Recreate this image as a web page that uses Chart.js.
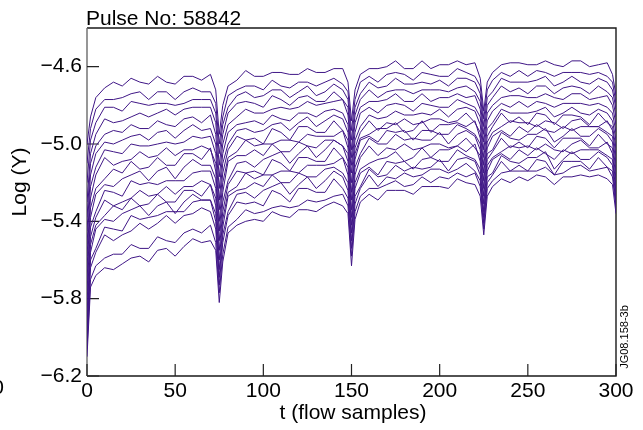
<!DOCTYPE html>
<html>
<head>
<meta charset="utf-8">
<script src="https://cdn.jsdelivr.net/npm/chart.js@4.4.0/dist/chart.umd.min.js"></script>
<style>
  html, body { margin: 0; padding: 0; background: #fff; }
</style>
</head>
<body>
<canvas id="pulseChart" width="643" height="430"></canvas>
<script>
// flow samples (denser around the dips at 75/150/225)
var tSamples = [0,2,5,10,15,20,25,30,35,40,45,50,55,60,65,70,73,75,77,
  80,85,90,95,100,105,110,115,120,125,130,135,140,145,148,150,152,
  155,160,165,170,175,180,185,190,195,200,205,210,215,220,223,225,227,
  230,235,240,245,250,255,260,265,270,275,280,285,290,295,298,300];

var xTicks = [0, 50, 100, 150, 200, 250, 300];
var yTicks = [-6.2, -5.8, -5.4, -5.0, -4.6];

// Log(Y) per channel, top trace first
var pulse01 = [-5.00,-4.86, -4.76,-4.71,-4.68,-4.70,-4.66,-4.68,-4.69,-4.65,-4.68,-4.69,-4.65,-4.65,-4.67,-4.64, -4.72,-4.95,-4.80,
  -4.70,-4.67,-4.62,-4.65,-4.65,-4.63,-4.63,-4.64,-4.64,-4.61,-4.63,-4.63,-4.61,-4.61, -4.68,-4.88,-4.72,
  -4.64,-4.61,-4.61,-4.60,-4.57,-4.61,-4.61,-4.57,-4.61,-4.59,-4.59,-4.57,-4.59,-4.58, -4.66,-4.83,-4.68,
  -4.63,-4.59,-4.58,-4.58,-4.59,-4.59,-4.57,-4.59,-4.60,-4.57,-4.57,-4.60,-4.59,-4.58, -4.64,-4.75];
var pulse02 = [-5.10,-4.92, -4.82,-4.77,-4.77,-4.76,-4.74,-4.73,-4.77,-4.73,-4.73,-4.77,-4.73,-4.71,-4.73,-4.73, -4.79,-5.00,-4.86,
  -4.75,-4.72,-4.70,-4.70,-4.72,-4.67,-4.70,-4.71,-4.68,-4.68,-4.70,-4.68,-4.66,-4.69, -4.73,-4.93,-4.77,
  -4.68,-4.65,-4.68,-4.64,-4.63,-4.64,-4.67,-4.63,-4.64,-4.65,-4.65,-4.61,-4.63,-4.65, -4.70,-4.87,-4.72,
  -4.67,-4.63,-4.65,-4.62,-4.65,-4.62,-4.63,-4.65,-4.63,-4.63,-4.63,-4.64,-4.63,-4.65, -4.68,-4.79];
var pulse03 = [-5.20,-4.98, -4.89,-4.81,-4.81,-4.83,-4.78,-4.79,-4.80,-4.79,-4.79,-4.80,-4.79,-4.77,-4.77,-4.77, -4.84,-5.05,-4.90,
  -4.81,-4.75,-4.73,-4.76,-4.75,-4.72,-4.72,-4.76,-4.73,-4.70,-4.75,-4.73,-4.69,-4.72, -4.77,-4.98,-4.81,
  -4.74,-4.68,-4.71,-4.70,-4.66,-4.69,-4.69,-4.68,-4.69,-4.67,-4.70,-4.66,-4.66,-4.68, -4.74,-4.91,-4.76,
  -4.73,-4.66,-4.68,-4.68,-4.68,-4.67,-4.65,-4.70,-4.68,-4.65,-4.68,-4.69,-4.66,-4.68, -4.72,-4.82];
var pulse04 = [-5.30,-5.05, -4.95,-4.87,-4.89,-4.88,-4.86,-4.84,-4.86,-4.84,-4.82,-4.85,-4.82,-4.81,-4.81,-4.81, -4.89,-5.11,-4.95,
  -4.84,-4.79,-4.78,-4.79,-4.81,-4.75,-4.77,-4.80,-4.76,-4.75,-4.78,-4.78,-4.73,-4.77, -4.81,-5.03,-4.85,
  -4.77,-4.72,-4.76,-4.73,-4.72,-4.72,-4.74,-4.72,-4.72,-4.72,-4.73,-4.71,-4.70,-4.73, -4.78,-4.95,-4.80,
  -4.76,-4.70,-4.73,-4.71,-4.74,-4.70,-4.70,-4.74,-4.71,-4.70,-4.71,-4.74,-4.70,-4.73, -4.76,-4.86];
var pulse05 = [-5.38,-5.10, -5.01,-4.95,-4.93,-4.94,-4.90,-4.92,-4.92,-4.88,-4.90,-4.91,-4.87,-4.86,-4.89,-4.85, -4.95,-5.17,-5.00,
  -4.90,-4.86,-4.82,-4.84,-4.84,-4.82,-4.81,-4.82,-4.81,-4.78,-4.80,-4.79,-4.78,-4.77, -4.85,-5.07,-4.89,
  -4.81,-4.78,-4.78,-4.77,-4.74,-4.78,-4.78,-4.74,-4.78,-4.76,-4.76,-4.74,-4.76,-4.75, -4.82,-4.99,-4.84,
  -4.80,-4.76,-4.75,-4.75,-4.76,-4.76,-4.74,-4.76,-4.77,-4.74,-4.74,-4.77,-4.76,-4.75, -4.80,-4.90];
var pulse06 = [-5.45,-5.16, -5.05,-4.99,-5.00,-4.98,-4.96,-4.95,-4.98,-4.94,-4.93,-4.97,-4.93,-4.90,-4.93,-4.92, -5.00,-5.23,-5.05,
  -4.94,-4.90,-4.89,-4.88,-4.90,-4.85,-4.87,-4.88,-4.84,-4.84,-4.86,-4.83,-4.82,-4.84, -4.90,-5.11,-4.94,
  -4.84,-4.81,-4.84,-4.80,-4.79,-4.80,-4.83,-4.79,-4.80,-4.81,-4.81,-4.77,-4.79,-4.81, -4.86,-5.03,-4.88,
  -4.83,-4.79,-4.81,-4.78,-4.81,-4.78,-4.79,-4.81,-4.79,-4.79,-4.79,-4.80,-4.79,-4.81, -4.84,-4.94];
var pulse07 = [-5.52,-5.22, -5.12,-5.03,-5.04,-5.05,-5.00,-5.01,-5.01,-5.00,-4.99,-5.00,-4.99,-4.96,-4.97,-4.96, -5.05,-5.29,-5.10,
  -5.00,-4.93,-4.92,-4.94,-4.93,-4.90,-4.89,-4.93,-4.89,-4.86,-4.91,-4.88,-4.85,-4.87, -4.94,-5.15,-4.98,
  -4.91,-4.85,-4.87,-4.86,-4.83,-4.85,-4.85,-4.84,-4.85,-4.82,-4.86,-4.82,-4.81,-4.83, -4.90,-5.07,-4.92,
  -4.89,-4.82,-4.84,-4.84,-4.84,-4.83,-4.81,-4.86,-4.84,-4.81,-4.84,-4.85,-4.82,-4.84, -4.88,-4.98];
var pulse08 = [-5.58,-5.28, -5.16,-5.07,-5.11,-5.09,-5.08,-5.04,-5.07,-5.06,-5.02,-5.06,-5.03,-5.03,-5.01,-5.03, -5.10,-5.34,-5.15,
  -5.03,-4.96,-4.98,-4.97,-5.00,-4.92,-4.94,-4.98,-4.91,-4.91,-4.94,-4.94,-4.88,-4.93, -4.98,-5.20,-5.02,
  -4.94,-4.88,-4.93,-4.89,-4.90,-4.87,-4.90,-4.89,-4.87,-4.87,-4.89,-4.88,-4.84,-4.89, -4.94,-5.11,-4.96,
  -4.91,-4.84,-4.89,-4.86,-4.90,-4.84,-4.85,-4.90,-4.85,-4.85,-4.86,-4.90,-4.84,-4.89, -4.91,-5.02];
var pulse09 = [-5.64,-5.33, -5.23,-5.18,-5.13,-5.15,-5.09,-5.13,-5.12,-5.07,-5.11,-5.11,-5.05,-5.05,-5.08,-5.02, -5.14,-5.40,-5.20,
  -5.07,-5.04,-4.98,-5.01,-5.00,-5.00,-4.98,-4.98,-4.99,-4.95,-4.96,-4.96,-4.96,-4.93, -5.02,-5.25,-5.05,
  -4.97,-4.95,-4.92,-4.92,-4.89,-4.94,-4.93,-4.88,-4.94,-4.90,-4.90,-4.89,-4.91,-4.88, -4.97,-5.15,-4.99,
  -4.94,-4.91,-4.88,-4.89,-4.89,-4.91,-4.88,-4.89,-4.92,-4.88,-4.87,-4.91,-4.91,-4.88, -4.93,-5.06];
var pulse10 = [-5.70,-5.38, -5.26,-5.21,-5.22,-5.18,-5.16,-5.14,-5.19,-5.14,-5.12,-5.18,-5.12,-5.08,-5.11,-5.11, -5.18,-5.45,-5.25,
  -5.09,-5.06,-5.06,-5.03,-5.06,-5.00,-5.04,-5.04,-4.99,-5.01,-5.02,-4.98,-4.98,-5.01, -5.05,-5.29,-5.08,
  -4.98,-4.96,-4.99,-4.93,-4.94,-4.93,-4.98,-4.93,-4.93,-4.95,-4.95,-4.90,-4.92,-4.95, -5.00,-5.19,-5.02,
  -4.96,-4.93,-4.96,-4.91,-4.94,-4.90,-4.93,-4.94,-4.91,-4.93,-4.91,-4.91,-4.91,-4.94, -4.96,-5.10];
var pulse11 = [-5.76,-5.43, -5.35,-5.24,-5.25,-5.27,-5.19,-5.21,-5.20,-5.21,-5.19,-5.19,-5.19,-5.15,-5.14,-5.14, -5.23,-5.50,-5.30,
  -5.19,-5.10,-5.09,-5.12,-5.08,-5.06,-5.04,-5.10,-5.05,-5.01,-5.07,-5.03,-4.98,-5.01, -5.09,-5.34,-5.12,
  -5.05,-4.97,-5.00,-5.00,-4.95,-4.98,-4.97,-4.98,-4.98,-4.94,-5.00,-4.95,-4.93,-4.96, -5.03,-5.23,-5.05,
  -5.03,-4.94,-4.97,-4.98,-4.95,-4.95,-4.92,-4.99,-4.96,-4.92,-4.96,-4.96,-4.92,-4.95, -4.99,-5.14];
var pulse12 = [-5.82,-5.48, -5.38,-5.29,-5.32,-5.30,-5.28,-5.24,-5.27,-5.26,-5.22,-5.26,-5.22,-5.22,-5.19,-5.21, -5.28,-5.55,-5.35,
  -5.21,-5.14,-5.15,-5.14,-5.16,-5.08,-5.10,-5.14,-5.07,-5.07,-5.09,-5.09,-5.02,-5.07, -5.12,-5.38,-5.16,
  -5.07,-5.01,-5.06,-5.02,-5.03,-5.00,-5.03,-5.02,-5.00,-5.00,-5.02,-5.01,-4.97,-5.02, -5.06,-5.27,-5.08,
  -5.04,-4.97,-5.02,-4.99,-5.02,-4.96,-4.97,-5.02,-4.97,-4.97,-4.97,-5.01,-4.95,-5.00, -5.02,-5.18];
var pulse13 = [-5.88,-5.52, -5.42,-5.37,-5.32,-5.34,-5.28,-5.32,-5.31,-5.26,-5.30,-5.30,-5.24,-5.24,-5.27,-5.21, -5.32,-5.60,-5.39,
  -5.25,-5.22,-5.15,-5.18,-5.16,-5.16,-5.14,-5.14,-5.15,-5.11,-5.11,-5.11,-5.10,-5.07, -5.16,-5.42,-5.20,
  -5.13,-5.10,-5.08,-5.07,-5.04,-5.09,-5.07,-5.02,-5.07,-5.03,-5.03,-5.01,-5.04,-5.00, -5.09,-5.31,-5.11,
  -5.07,-5.04,-5.01,-5.02,-5.01,-5.03,-5.00,-5.03,-5.04,-5.00,-4.98,-5.02,-5.02,-4.99, -5.05,-5.22];
var pulse14 = [-5.94,-5.56, -5.44,-5.39,-5.40,-5.36,-5.34,-5.32,-5.37,-5.32,-5.30,-5.36,-5.30,-5.26,-5.29,-5.29, -5.36,-5.65,-5.43,
  -5.27,-5.24,-5.23,-5.20,-5.22,-5.16,-5.20,-5.20,-5.15,-5.17,-5.17,-5.13,-5.12,-5.15, -5.20,-5.46,-5.23,
  -5.15,-5.12,-5.16,-5.09,-5.10,-5.09,-5.13,-5.08,-5.07,-5.09,-5.09,-5.03,-5.06,-5.08, -5.13,-5.35,-5.14,
  -5.08,-5.05,-5.08,-5.03,-5.06,-5.02,-5.05,-5.08,-5.03,-5.05,-5.03,-5.03,-5.03,-5.06, -5.08,-5.25];
var pulse15 = [-5.98,-5.60, -5.54,-5.43,-5.44,-5.45,-5.37,-5.39,-5.38,-5.37,-5.35,-5.35,-5.35,-5.30,-5.29,-5.29, -5.40,-5.69,-5.47,
  -5.35,-5.26,-5.25,-5.28,-5.24,-5.22,-5.20,-5.26,-5.21,-5.17,-5.23,-5.19,-5.14,-5.17, -5.24,-5.50,-5.27,
  -5.22,-5.13,-5.17,-5.16,-5.11,-5.14,-5.12,-5.13,-5.12,-5.08,-5.14,-5.08,-5.07,-5.09, -5.16,-5.38,-5.17,
  -5.15,-5.06,-5.09,-5.10,-5.07,-5.07,-5.04,-5.13,-5.08,-5.04,-5.08,-5.08,-5.04,-5.07, -5.11,-5.28];
var pulse16 = [-6.02,-5.64, -5.56,-5.47,-5.50,-5.47,-5.45,-5.41,-5.44,-5.41,-5.37,-5.41,-5.37,-5.36,-5.33,-5.35, -5.44,-5.73,-5.51,
  -5.37,-5.30,-5.31,-5.30,-5.32,-5.24,-5.26,-5.30,-5.23,-5.23,-5.25,-5.25,-5.18,-5.23, -5.28,-5.54,-5.31,
  -5.23,-5.16,-5.22,-5.17,-5.18,-5.15,-5.17,-5.16,-5.13,-5.13,-5.15,-5.13,-5.10,-5.14, -5.19,-5.41,-5.20,
  -5.16,-5.09,-5.14,-5.11,-5.14,-5.08,-5.09,-5.16,-5.09,-5.09,-5.09,-5.13,-5.07,-5.12, -5.14,-5.31];
var pulse17 = [-6.06,-5.70, -5.63,-5.59,-5.57,-5.57,-5.52,-5.54,-5.54,-5.48,-5.50,-5.51,-5.46,-5.44,-5.46,-5.42, -5.51,-5.77,-5.57,
  -5.43,-5.39,-5.34,-5.36,-5.35,-5.33,-5.32,-5.33,-5.32,-5.29,-5.30,-5.29,-5.27,-5.26, -5.32,-5.58,-5.35,
  -5.27,-5.23,-5.23,-5.21,-5.19,-5.22,-5.21,-5.17,-5.20,-5.17,-5.18,-5.15,-5.17,-5.15, -5.22,-5.44,-5.23,
  -5.19,-5.15,-5.14,-5.14,-5.14,-5.14,-5.12,-5.16,-5.15,-5.12,-5.11,-5.14,-5.13,-5.12, -5.17,-5.33];
var pulse18 = [-6.10,-5.74, -5.68,-5.64,-5.65,-5.62,-5.59,-5.58,-5.61,-5.55,-5.54,-5.58,-5.53,-5.49,-5.51,-5.50, -5.55,-5.82,-5.61,
  -5.46,-5.42,-5.40,-5.39,-5.40,-5.35,-5.37,-5.38,-5.34,-5.34,-5.35,-5.32,-5.30,-5.32, -5.36,-5.63,-5.39,
  -5.30,-5.26,-5.29,-5.24,-5.24,-5.24,-5.26,-5.22,-5.22,-5.22,-5.23,-5.18,-5.20,-5.21, -5.27,-5.47,-5.27,
  -5.22,-5.18,-5.20,-5.17,-5.19,-5.16,-5.17,-5.21,-5.17,-5.17,-5.16,-5.17,-5.16,-5.18, -5.21,-5.36];

var channels = [pulse01, pulse02, pulse03, pulse04, pulse05, pulse06, pulse07, pulse08, pulse09,
  pulse10, pulse11, pulse12, pulse13, pulse14, pulse15, pulse16, pulse17, pulse18];

var FONT = "'Liberation Sans', Arial, Helvetica, sans-serif";
var LINE_COLOR = '#3f1686';

function fmtMinus(v) {
  return Number(v).toFixed(1).replace('-', '\u2212');
}

// axes box, inward ticks and the loose labels
var framePlugin = {
  id: 'frame',
  beforeDatasetsDraw: function(chart) {
    var ctx = chart.ctx, a = chart.chartArea;
    var xs = chart.scales.x, ys = chart.scales.y;
    ctx.save();
    ctx.lineWidth = 1.4;
    ctx.strokeStyle = '#1a1a1a';
    ctx.beginPath();
    ctx.moveTo(a.left, a.top); ctx.lineTo(a.right, a.top);
    ctx.lineTo(a.right, a.bottom); ctx.lineTo(a.left, a.bottom);
    ctx.stroke();
    ctx.strokeStyle = '#6a6a6a';
    ctx.beginPath();
    ctx.moveTo(a.left, a.top); ctx.lineTo(a.left, a.bottom);
    ctx.stroke();

    ctx.lineWidth = 1.2;
    ctx.strokeStyle = '#222';
    ctx.beginPath();
    xTicks.forEach(function(t) {
      var px = xs.getPixelForValue(t);
      ctx.moveTo(px, a.bottom); ctx.lineTo(px, a.bottom - 12);
    });
    yTicks.forEach(function(v) {
      var py = ys.getPixelForValue(v);
      ctx.moveTo(a.left, py); ctx.lineTo(a.left + 12, py);
    });
    ctx.stroke();
    ctx.restore();
  },
  afterDraw: function(chart) {
    var ctx = chart.ctx;
    ctx.save();
    ctx.fillStyle = '#000';
    ctx.font = '21px ' + FONT;
    ctx.textBaseline = 'alphabetic';
    ctx.textAlign = 'left';
    ctx.fillText('Pulse No: 58842', 86, 25);

    ctx.textAlign = 'center';
    ctx.textBaseline = 'middle';
    ctx.fillText('t (flow samples)', 353, 413);

    ctx.textAlign = 'right';
    ctx.fillText('0', 4, 388);

    ctx.save();
    ctx.translate(20, 182);
    ctx.rotate(-Math.PI / 2);
    ctx.textAlign = 'center';
    ctx.fillText('Log (Y)', 0, 0);
    ctx.restore();

    ctx.save();
    ctx.translate(625, 337);
    ctx.rotate(-Math.PI / 2);
    ctx.font = '11px ' + FONT;
    ctx.textAlign = 'center';
    ctx.fillText('JG08.158-3b', 0, 0);
    ctx.restore();
    ctx.restore();
  }
};

var datasets = channels.map(function(vals) {
  return {
    data: tSamples.map(function(t, i) { return { x: t, y: vals[i] }; }),
    borderColor: LINE_COLOR,
    borderWidth: 1,
    pointRadius: 0,
    tension: 0,
    fill: false
  };
});

new Chart(document.getElementById('pulseChart'), {
  type: 'line',
  data: { datasets: datasets },
  options: {
    responsive: false,
    animation: false,
    devicePixelRatio: 1,
    layout: { padding: { left: 0, top: 28, right: 27, bottom: 0 } },
    plugins: { legend: { display: false }, tooltip: { enabled: false } },
    scales: {
      x: {
        type: 'linear',
        min: 0,
        max: 300,
        grid: { display: false, drawTicks: false },
        border: { display: false },
        afterFit: function(s) { s.height = 54; },
        afterBuildTicks: function(s) { s.ticks = xTicks.map(function(v) { return { value: v }; }); },
        ticks: {
          padding: 3,
          color: '#000',
          font: { family: FONT, size: 21 },
          maxRotation: 0,
          autoSkip: false
        }
      },
      y: {
        min: -6.2,
        max: -4.4,
        grid: { display: false, drawTicks: false },
        border: { display: false },
        afterFit: function(s) { s.width = 87; },
        afterBuildTicks: function(s) { s.ticks = yTicks.map(function(v) { return { value: v }; }); },
        ticks: {
          padding: 5,
          color: '#000',
          font: { family: FONT, size: 21 },
          autoSkip: false,
          callback: function(v) { return fmtMinus(v); }
        }
      }
    }
  },
  plugins: [framePlugin]
});
</script>
</body>
</html>
